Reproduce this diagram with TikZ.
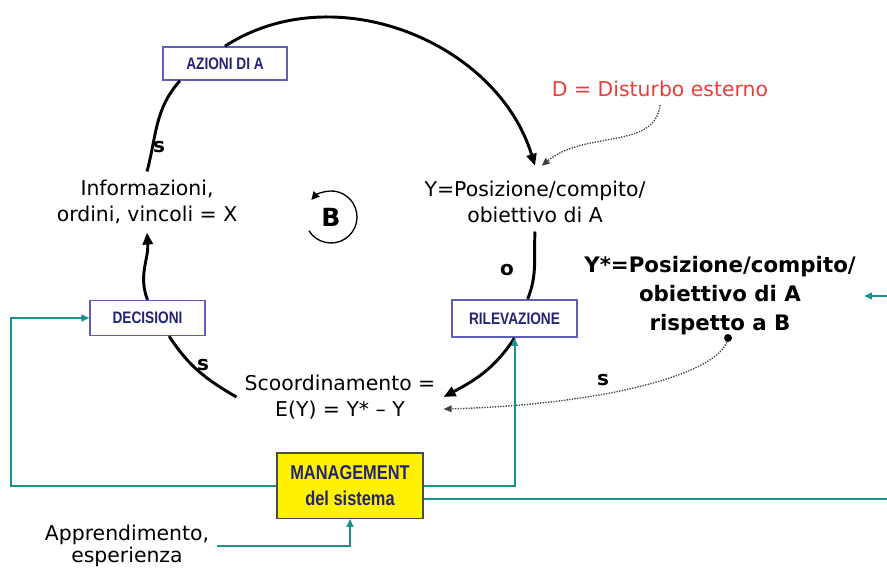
\documentclass[tikz,border=0pt]{standalone}
\usepackage{fontspec}
\setmainfont{DejaVu Sans}
\newfontfamily\boxfont[FakeStretch=0.82]{Liberation Sans}
\usepackage{tikz}
\usetikzlibrary{arrows.meta, positioning, calc}
\definecolor{bluBox}{RGB}{95,95,185}
\definecolor{bluTesto}{RGB}{35,35,120}
\definecolor{verdeAcqua}{RGB}{25,145,145}
\definecolor{rossoD}{RGB}{232,62,58}

\begin{document}
\begin{tikzpicture}[x=0.75pt, y=0.75pt,
  lbl/.style={align=center, inner sep=6pt, font=\fontsize{15.3}{20}\selectfont},
  sig/.style={inner sep=0pt, font=\bfseries\fontsize{15}{18}\selectfont},
  box/.style={rectangle, draw=bluBox, line width=1.2pt, fill=white, text=bluTesto,
              inner sep=0pt, font=\boxfont\bfseries\fontsize{12.5}{14}\selectfont},
  mgmt/.style={rectangle, draw=black!70, line width=1pt, fill=yellow, text=bluTesto,
               align=center, minimum width=109.5pt, minimum height=49pt,
               font=\boxfont\bfseries\fontsize{15}{19}\selectfont},
  ciclo/.style={line width=2.2pt},
  freccia/.style={-{Triangle[length=9pt,width=7.5pt]}},
  verde/.style={draw=verdeAcqua, line width=1.5pt, -{Triangle[length=6pt,width=5pt]}},
  punt/.style={densely dotted, line width=1pt, black!75, -{Triangle[length=6pt,width=5pt]}}
]
\useasboundingbox (0,0) rectangle (887,-570);

% Nodi del ciclo
\node[lbl] (infoX) at (147,-202) {Informazioni,\\ordini, vincoli = X};
\node[lbl] (posY) at (535,-202) {Y=Posizione/compito/\\obiettivo di A};
\node[lbl] (scoord) at (340,-397) {Scoordinamento =\\E(Y) = Y* – Y};

\node[box, minimum width=93pt, minimum height=24.75pt] (azioni) at (225,-63.5) {AZIONI DI A};
\node[box, minimum width=86pt, minimum height=26pt] (decisioni) at (147.5,-318) {DECISIONI};
\node[box, minimum width=94pt, minimum height=28pt] (rilevazione) at (514.5,-318.5) {RILEVAZIONE};

% Obiettivo e disturbo
\node[lbl, font=\bfseries\fontsize{16}{21.8}\selectfont] (ystar) at (720,-296)
  {Y*=Posizione/compito/\\obiettivo di A\\rispetto a B};
\node[circle, fill, inner sep=0pt, minimum size=6pt] (punto) at (728,-338) {};
\node[lbl, text=rossoD] (disturbo) at (660,-89) {D = Disturbo esterno};

% Management
\node[mgmt] (management) at (350,-485.5) {MANAGEMENT\\del sistema};
\node[lbl, font=\fontsize{15.3}{16.5}\selectfont] (apprend) at (127,-546) {Apprendimento,\\esperienza};

% Simbolo del ciclo
\node[font=\bfseries\fontsize{18.75}{20}\selectfont] (bilancio) at (331,-217) {B};
\draw[line width=1pt, -{Triangle[length=6pt,width=6pt]}]
  ([shift={(212:26)}]bilancio.center) arc[start angle=212, end angle=499, radius=26];

% Segni
\node[sig] (s1) at (159,-147) {s};
\node[sig] (s2) at (203,-365) {s};
\node[sig] (o1) at (507,-270) {o};
\node[sig] (s3) at (603,-380) {s};

% Frecce del ciclo
\draw[ciclo] (infoX.north) to[out=75, in=-132] (azioni.201);
\draw[ciclo, freccia] (azioni.north) to[out=33, in=107] ([yshift=5pt]posY.north);
\draw[ciclo] (posY.south) to[out=-93, in=68] (rilevazione.56);
\draw[ciclo, freccia] (rilevazione.south) to[out=-123, in=28] (scoord.east);
\draw[ciclo] (scoord.west) to[out=150, in=-57] (decisioni.-40);
\draw[ciclo, freccia] (decisioni.north) to[out=111, in=-86] (infoX.south);

% Frecce tratteggiate
\draw[punt] (disturbo.south) .. controls (655,-150) and (585,-130) .. ([xshift=5pt,yshift=5pt]posY.north);
\draw[punt] (punto) .. controls (715,-375) and (600,-405) .. ([yshift=-9pt]scoord.east);

% Collegamenti del management
\draw[verde] (management.west) -- ++(-265,0) |- (decisioni.west);
\draw[verde] (management.east) -| (rilevazione.south);
\draw[verde] ([yshift=-9.75pt]management.east) -- ++(500,0) |- (ystar.east);
\draw[verde] (apprend.east) -| (management.south);

\end{tikzpicture}
\end{document}
